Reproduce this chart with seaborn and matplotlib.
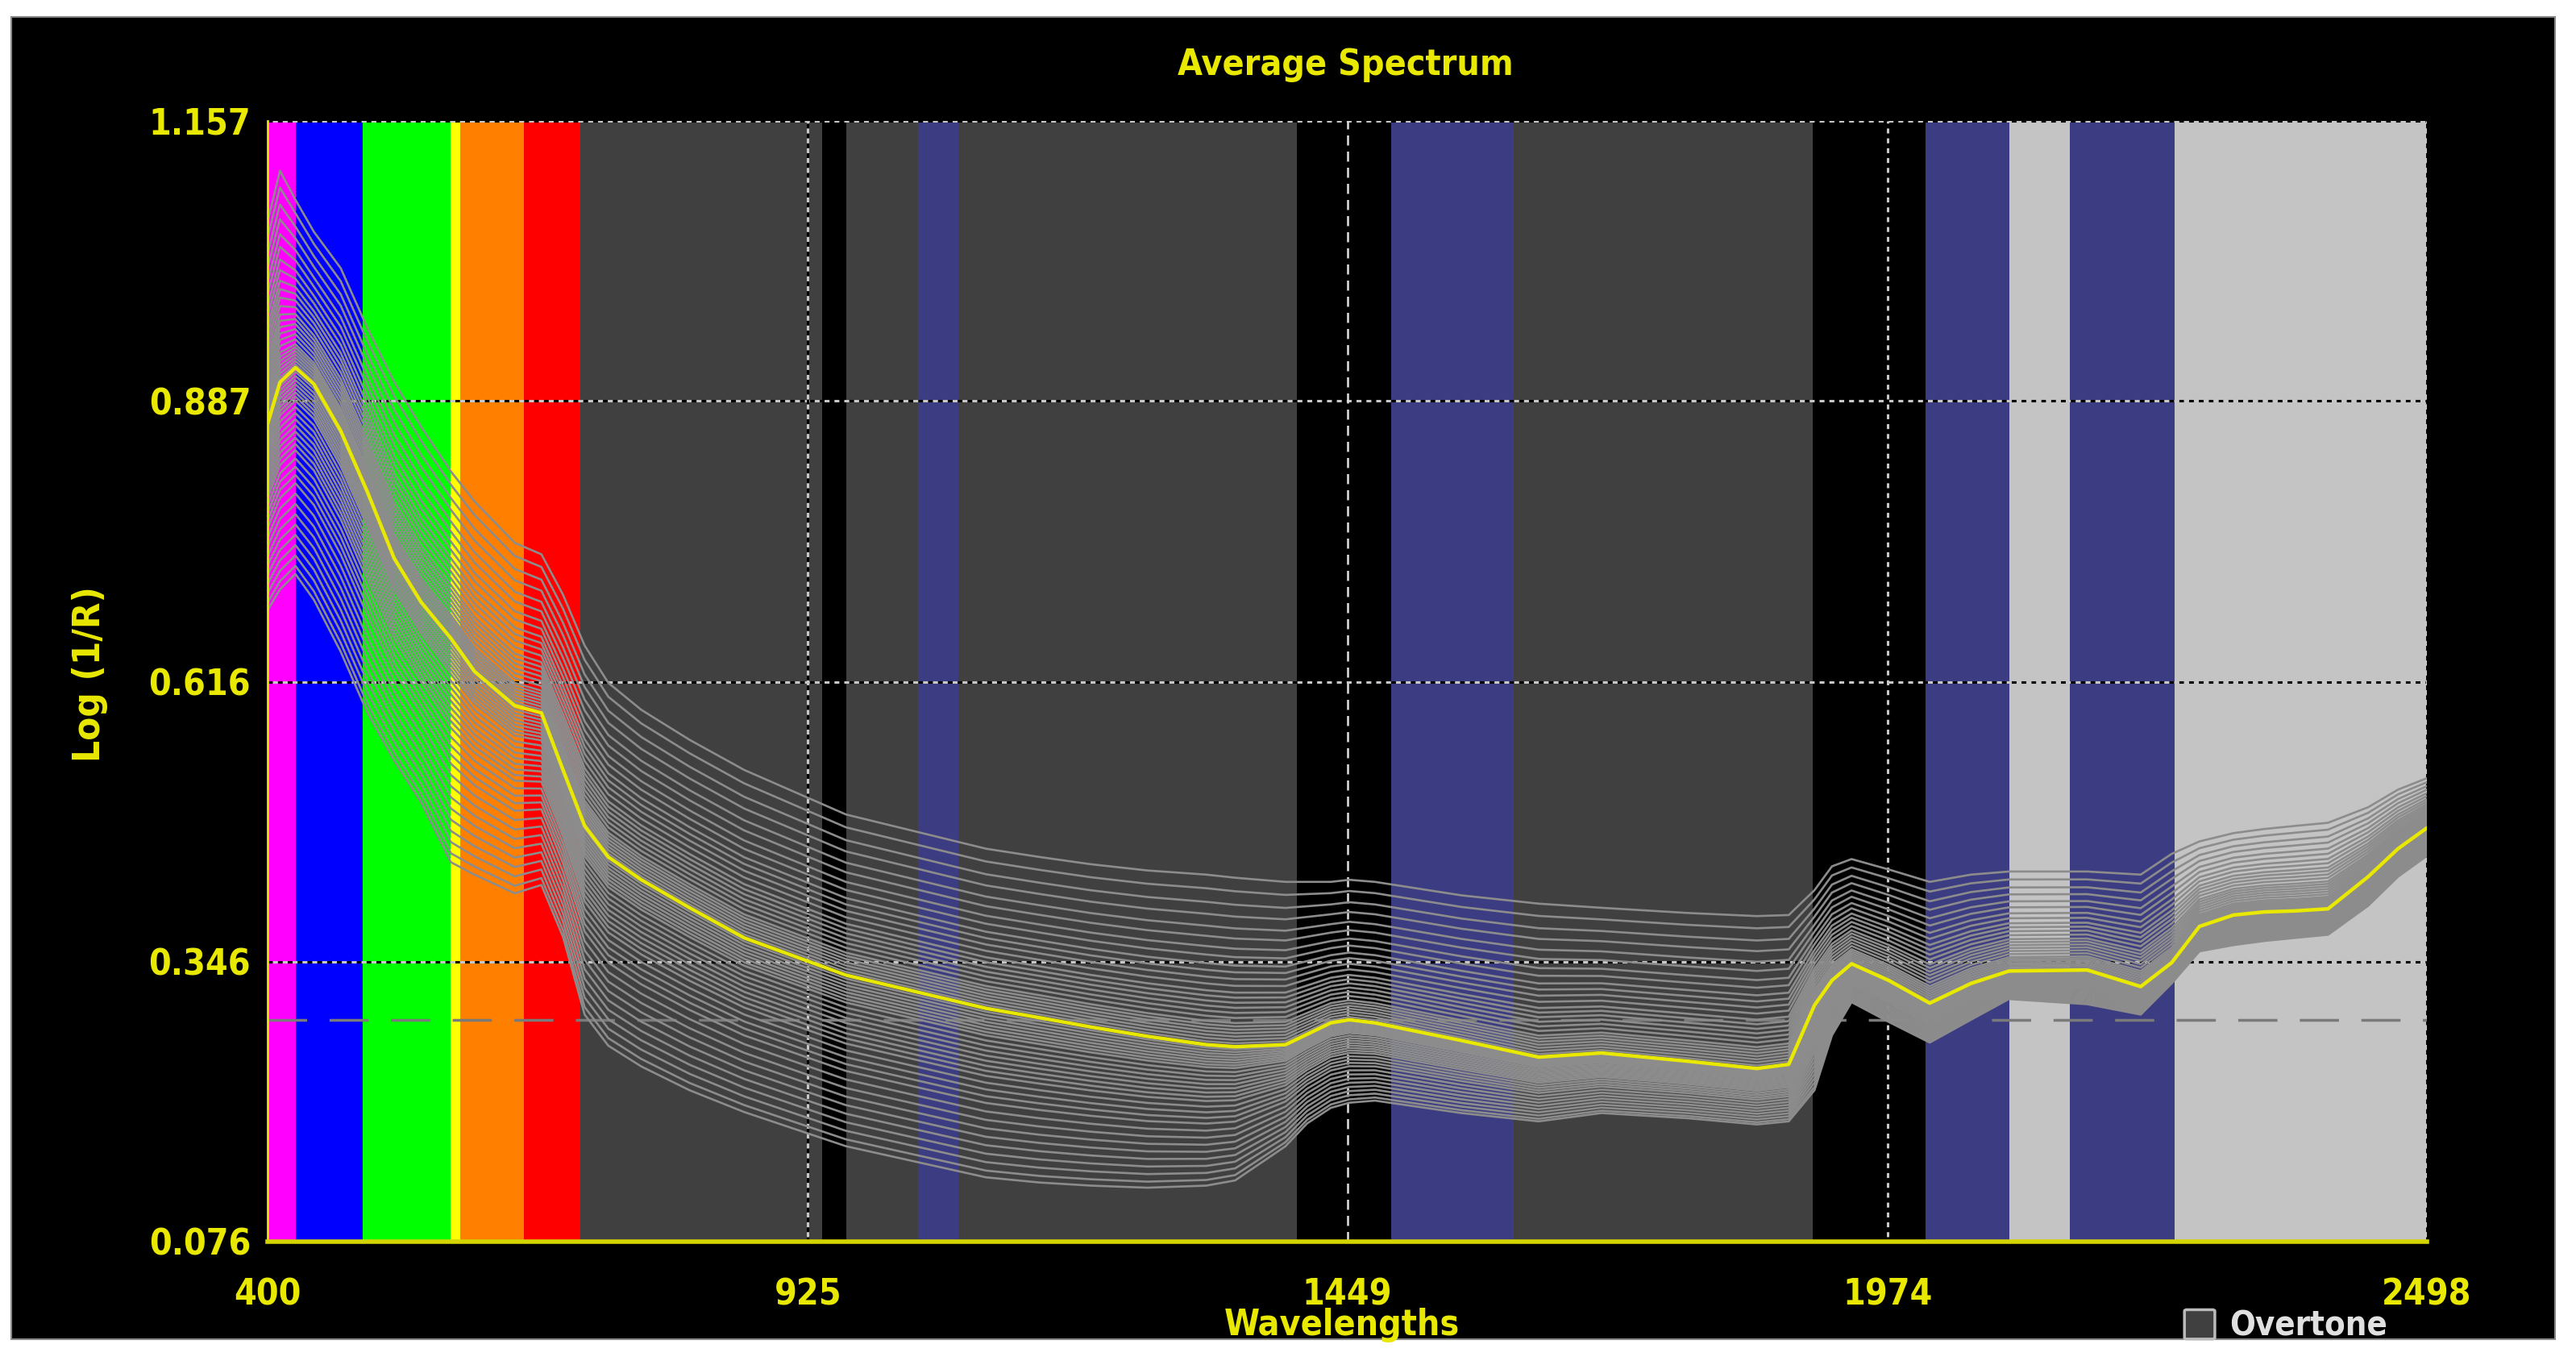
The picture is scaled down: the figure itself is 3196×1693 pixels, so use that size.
#average NIR spectrum plot: every sample spectrum in gray with the mean in yellow
#band colours mark the visible / overtone regions like the instrument software

import numpy as np
import pandas as pd
import matplotlib
matplotlib.use("Agg")
import matplotlib.pyplot as plt
from matplotlib.patches import Rectangle, FancyBboxPatch
import seaborn as sns


wavelengths = [400, 412, 427, 445, 471, 497, 523, 549, 578, 601, 640, 666, 687, 708,
               731, 763, 810, 863, 962, 1098, 1150, 1200, 1255, 1312, 1340, 1389, 1410,
               1433, 1451, 1476, 1560, 1635, 1696, 1780, 1847, 1878, 1903, 1920, 1939,
               1975, 2015, 2055, 2092, 2168, 2220, 2250, 2277, 2310, 2340, 2370, 2402,
               2441, 2470, 2498]

#average spectrum (yellow line)
mean_spectrum = [0.865, 0.905, 0.919, 0.903, 0.858, 0.799, 0.735, 0.693, 0.658, 0.626,
                 0.593, 0.586, 0.531, 0.477, 0.447, 0.425, 0.398, 0.369, 0.333, 0.301,
                 0.292, 0.283, 0.274, 0.266, 0.264, 0.266, 0.276, 0.287, 0.290, 0.287,
                 0.270, 0.254, 0.258, 0.250, 0.243, 0.247, 0.304, 0.328, 0.344, 0.328,
                 0.306, 0.325, 0.337, 0.338, 0.322, 0.345, 0.380, 0.391, 0.394, 0.395,
                 0.397, 0.428, 0.455, 0.475]

#highest and lowest sample spectra
upper_spectrum = [1.060, 1.109, 1.081, 1.050, 1.015, 0.957, 0.905, 0.862, 0.819, 0.790,
                  0.750, 0.739, 0.700, 0.651, 0.615, 0.589, 0.560, 0.531, 0.488, 0.455,
                  0.447, 0.440, 0.434, 0.430, 0.427, 0.423, 0.423, 0.423, 0.425, 0.423,
                  0.410, 0.402, 0.398, 0.393, 0.390, 0.391, 0.415, 0.438, 0.445, 0.435,
                  0.423, 0.430, 0.433, 0.433, 0.430, 0.450, 0.462, 0.470, 0.474, 0.477,
                  0.480, 0.495, 0.512, 0.523]
lower_spectrum = [0.685, 0.705, 0.720, 0.695, 0.645, 0.586, 0.540, 0.500, 0.442, 0.430,
                  0.412, 0.420, 0.370, 0.295, 0.265, 0.245, 0.222, 0.201, 0.168, 0.138,
                  0.133, 0.130, 0.128, 0.130, 0.135, 0.168, 0.190, 0.205, 0.210, 0.212,
                  0.200, 0.192, 0.200, 0.195, 0.189, 0.192, 0.222, 0.275, 0.307, 0.288,
                  0.268, 0.290, 0.310, 0.305, 0.295, 0.325, 0.356, 0.362, 0.366, 0.369,
                  0.372, 0.400, 0.428, 0.448]

#where each sample sits between the mean (0) and the upper (1) / lower (-1) spectrum
sample_positions = [1.0, 0.92, 0.84, 0.77, 0.70, 0.64, 0.58, 0.53, 0.48, 0.44, 0.40,
                    0.36, 0.32, 0.29, 0.26, 0.23, 0.20, 0.17, 0.14, 0.12, 0.10, 0.08,
                    0.06, 0.04, 0.02, -0.02, -0.04, -0.06, -0.08, -0.10, -0.12, -0.14,
                    -0.16, -0.19, -0.22, -0.25, -0.28, -0.31, -0.34, -0.37, -0.40,
                    -0.44, -0.48, -0.52, -0.56, -0.61, -0.66, -0.71, -0.76, -0.81,
                    -0.86, -0.91, -0.96, -1.0]

#coloured regions behind the spectra (black background shows where there is none)
band_start = [400, 427, 492, 578, 587, 649, 704, 962, 1032, 1071, 1492, 1611, 2011, 2092, 2151, 2253]
band_end = [427, 492, 578, 587, 649, 704, 939, 1032, 1071, 1400, 1611, 1901, 2092, 2151, 2253, 2498]
band_color = ["#ff00ff", "#0000ff", "#00ff00", "#ffff00", "#ff8000", "#ff0000",
              "#404040", "#404040", "#3c3c82", "#404040", "#3c3c82", "#404040",
              "#3c3c82", "#c4c4c4", "#3c3c82", "#c4c4c4"]

x_ticks = [400, 925, 1449, 1974, 2498]
y_ticks = [0.076, 0.346, 0.616, 0.887, 1.157]
y_tick_labels = ["0.076", "0.346", "0.616", "0.887", "1.157"]
grid_y = [0.346, 0.616, 0.887, 1.157]
grid_x = [925, 1974, 2498]
cursor_x = 1449
cursor_y = 0.290

yellow = "#e8e800"

#building the long table of spectra for seaborn
mean = np.array(mean_spectrum)
upper = np.array(upper_spectrum)
lower = np.array(lower_spectrum)
rows = []
for i, k in enumerate(sample_positions):
    if k >= 0:
        vals = mean + k * (upper - mean)
    else:
        vals = mean + k * (mean - lower)
    rows.append(pd.DataFrame({"wavelength": wavelengths, "logr": vals, "sample": i}))
df = pd.concat(rows, ignore_index=True)
df_mean = pd.DataFrame({"wavelength": wavelengths, "logr": mean_spectrum})

sns.set_style("dark")
plt.rcParams["font.family"] = ["DejaVu Sans"]
plt.rcParams["font.stretch"] = "condensed"

fig = plt.figure(figsize=(31.96, 16.93), dpi=100, facecolor="white")
fig.add_artist(Rectangle((0.0044, 0.0189), 0.9875, 0.9687, transform=fig.transFigure,
                         facecolor="black", edgecolor="#888888", lw=1.5, zorder=0))

ax = fig.add_axes([0.1039, 0.0904, 0.8382, 0.8210])
ax.set_facecolor("black")

for s, e, c in zip(band_start, band_end, band_color):
    ax.axvspan(s, e, color=c, lw=0, zorder=0)

#dotted grid: black and light dots alternating so it shows on every band
for y in grid_y:
    ax.axhline(y, color="black", ls=(0, (2, 2)), lw=2.2, zorder=1)
    ax.axhline(y, color="#c8c8c8", ls=(2, (2, 2)), lw=2.2, zorder=1)
for x in grid_x:
    ax.axvline(x, color="black", ls=(0, (2, 2)), lw=2.2, zorder=1)
    ax.axvline(x, color="#c8c8c8", ls=(2, (2, 2)), lw=2.2, zorder=1)

ax.axvline(cursor_x, color="#e0e0e0", ls=(0, (5, 3)), lw=1.8, zorder=1)
ax.axhline(cursor_y, color="#7a7a7a", ls=(0, (14, 8)), lw=2.5, zorder=1)

sns.lineplot(data=df, x="wavelength", y="logr", units="sample", estimator=None,
             color="#8c8c8c", lw=1.9, ax=ax, legend=False, zorder=2)
sns.lineplot(data=df_mean, x="wavelength", y="logr", color=yellow, lw=3.2,
             ax=ax, legend=False, zorder=3)

ax.set_xlim(400, 2498)
ax.set_ylim(0.076, 1.157)
ax.set_xticks(x_ticks)
ax.set_xticklabels([str(t) for t in x_ticks], fontweight="bold")
ax.set_yticks(y_ticks)
ax.set_yticklabels(y_tick_labels, fontweight="bold")
ax.tick_params(axis="both", colors=yellow, length=0, labelsize=32)
ax.tick_params(axis="x", pad=32)
ax.tick_params(axis="y", pad=15)
ax.set_xlabel("")
ax.set_ylabel("")
ax.grid(False)

for side in ["top", "right"]:
    ax.spines[side].set_visible(False)
ax.spines["left"].set_color(yellow)
ax.spines["left"].set_linewidth(2)
ax.spines["bottom"].set_color("#d4d400")
ax.spines["bottom"].set_linewidth(4)

fig.text(0.5222, 0.9527, "Average Spectrum", color=yellow, fontsize=32,
         fontweight="bold", ha="center", va="center")
fig.text(0.521, 0.0295, "Wavelengths", color=yellow, fontsize=32,
         fontweight="bold", ha="center", va="center")
fig.text(0.035, 0.506, "Log (1/R)", color=yellow, fontsize=34,
         fontweight="bold", ha="center", va="center", rotation=90)

#little legend box in the bottom right corner
fig.add_artist(FancyBboxPatch((0.8490, 0.0200), 0.0098, 0.0195,
                              boxstyle="round,pad=0.001", transform=fig.transFigure,
                              facecolor="#404040", edgecolor="#bbbbbb", lw=2.5))
fig.text(0.8655, 0.0284, "Overtone", color="#e0e0e0", fontsize=30,
         fontweight="bold", ha="left", va="center")

fig.savefig("out.png", dpi=100, facecolor="white")
